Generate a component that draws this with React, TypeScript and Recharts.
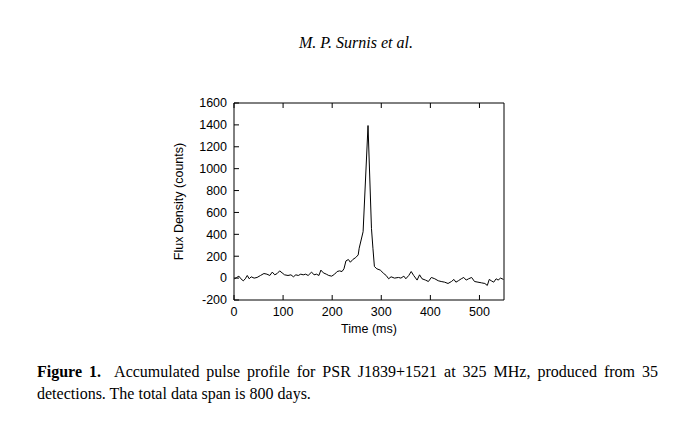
import { LineChart, Line, XAxis, YAxis, Label } from 'recharts';

// Time (ms) and flux density (counts)
const timeMs = [
  1, 5, 10, 14, 19, 23, 27, 31, 35, 41, 47, 54, 61, 67, 73, 78, 83, 88, 93, 98,
  103, 110, 116, 121, 126, 131, 136, 141, 146, 151, 158, 163, 168, 173, 177, 182, 188, 193, 199, 205,
  210, 215, 220, 224, 228, 233, 237, 242, 248, 253, 255, 263, 273, 280, 283, 286, 291, 298, 305, 310,
  315, 320, 327, 335, 340, 346, 350, 356, 361, 366, 373, 378, 383, 390, 396, 402, 409, 416, 422, 429,
  436, 443, 448, 452, 457, 463, 468, 473, 478, 484, 490, 497, 504, 511, 516, 520, 524, 529, 534, 538,
  543, 549,
];
const flux = [
  -6, 5, 18, -6, -25, -6, 24, -6, 12, 0, 6, 24, 42, 36, 24, 55, 30, 42, 66, 48,
  30, 24, 30, 12, 30, 24, 36, 30, 36, 24, 55, 30, 36, 24, 73, 48, 36, 24, 18, 36,
  60, 66, 60, 85, 157, 170, 145, 170, 188, 212, 273, 424, 1394, 455, 273, 106, 85, 73, 42, 24,
  -6, 12, 0, 6, 0, 18, -6, 24, 60, 24, -18, 30, -6, -18, -31, 6, -6, -24, -31, -37,
  -49, -31, -12, -37, -24, -6, 6, -18, -6, 6, -31, -37, -43, -49, -67, -12, -24, -37, -6, -18,
  0, -12,
];

const xTicks = [0, 100, 200, 300, 400, 500];
const yTicks = [-200, 0, 200, 400, 600, 800, 1000, 1200, 1400, 1600];

const data = timeMs.map((t, i) => ({ t, flux: flux[i] }));

const FONT = 'Liberation Sans, Arial, sans-serif';
const TICK = 5; // gnuplot style inward ticks
const GAP = 7;

// bottom axis: label below, tick pointing up into the plot
const BottomTick = (p: any) => (
  <g>
    <line x1={p.x} x2={p.x} y1={p.y - GAP} y2={p.y - GAP - TICK} stroke="#000" />
    <text x={p.x} y={p.y} dy="0.75em" textAnchor="middle" fontFamily={FONT} fontSize={12.5} fill="#000">
      {p.payload.value}
    </text>
  </g>
);

// left axis: label to the left, tick pointing right into the plot
const LeftTick = (p: any) => (
  <g>
    <line x1={p.x + GAP} x2={p.x + GAP + TICK} y1={p.y} y2={p.y} stroke="#000" />
    <text x={p.x} y={p.y} dy="0.35em" textAnchor="end" fontFamily={FONT} fontSize={12.5} fill="#000">
      {p.payload.value}
    </text>
  </g>
);

const TopTick = (p: any) => <line x1={p.x} x2={p.x} y1={p.y} y2={p.y + TICK} stroke="#000" />;
const RightTick = (p: any) => <line x1={p.x} x2={p.x - TICK} y1={p.y} y2={p.y} stroke="#000" />;

export default function App() {
  return (
    <div
      style={{
        position: 'absolute',
        left: 0,
        top: 0,
        width: 694,
        height: 428,
        background: '#fff',
        fontFamily: 'Liberation Serif, Times New Roman, serif',
        color: '#000',
      }}
    >
      <div
        style={{
          position: 'absolute',
          left: 0,
          width: 712,
          top: 34,
          textAlign: 'center',
          fontStyle: 'italic',
          fontSize: 16,
        }}
      >
        M. P. Surnis et al.
      </div>

      <LineChart
        width={694}
        height={428}
        data={data}
        margin={{ top: 102, right: 189, bottom: 88, left: 0 }}
        style={{ position: 'absolute', left: 0, top: 0 }}
      >
        <XAxis
          dataKey="t"
          type="number"
          domain={[0, 550]}
          ticks={xTicks}
          interval={0}
          allowDataOverflow
          height={40}
          tickSize={0}
          tickMargin={GAP}
          tickLine={false}
          tick={BottomTick}
          stroke="#000"
        >
          <Label
            value="Time (ms)"
            position="insideTop"
            offset={24}
            style={{ fontFamily: FONT, fontSize: 12.5, fill: '#000' }}
          />
        </XAxis>
        <XAxis
          xAxisId="top"
          dataKey="t"
          type="number"
          orientation="top"
          domain={[0, 550]}
          ticks={xTicks}
          interval={0}
          allowDataOverflow
          height={1}
          tickSize={0}
          tickMargin={0}
          tickLine={false}
          tick={TopTick}
          stroke="#000"
        />
        <YAxis
          type="number"
          domain={[-200, 1600]}
          ticks={yTicks}
          interval={0}
          width={234}
          tickSize={0}
          tickMargin={GAP}
          tickLine={false}
          tick={LeftTick}
          stroke="#000"
        >
          <Label
            value="Flux Density (counts)"
            angle={-90}
            position="center"
            dx={62}
            style={{ fontFamily: FONT, fontSize: 12.5, fill: '#000', textAnchor: 'middle' }}
          />
        </YAxis>
        <YAxis
          yAxisId="right"
          type="number"
          orientation="right"
          domain={[-200, 1600]}
          ticks={yTicks}
          interval={0}
          width={1}
          tickSize={0}
          tickMargin={0}
          tickLine={false}
          tick={RightTick}
          stroke="#000"
        />
        <Line
          dataKey="flux"
          stroke="#000"
          strokeWidth={1}
          dot={false}
          type="linear"
          isAnimationActive={false}
        />
      </LineChart>

      <div style={{ position: 'absolute', left: 37, top: 363, width: 621, fontSize: 16 }}>
        <div style={{ textAlign: 'justify', textAlignLast: 'justify' }}>
          <b>Figure 1.</b>&nbsp; Accumulated pulse profile for PSR J1839+1521 at 325 MHz, produced from 35
        </div>
        <div style={{ marginTop: 4 }}>detections. The total data span is 800 days.</div>
      </div>
    </div>
  );
}
